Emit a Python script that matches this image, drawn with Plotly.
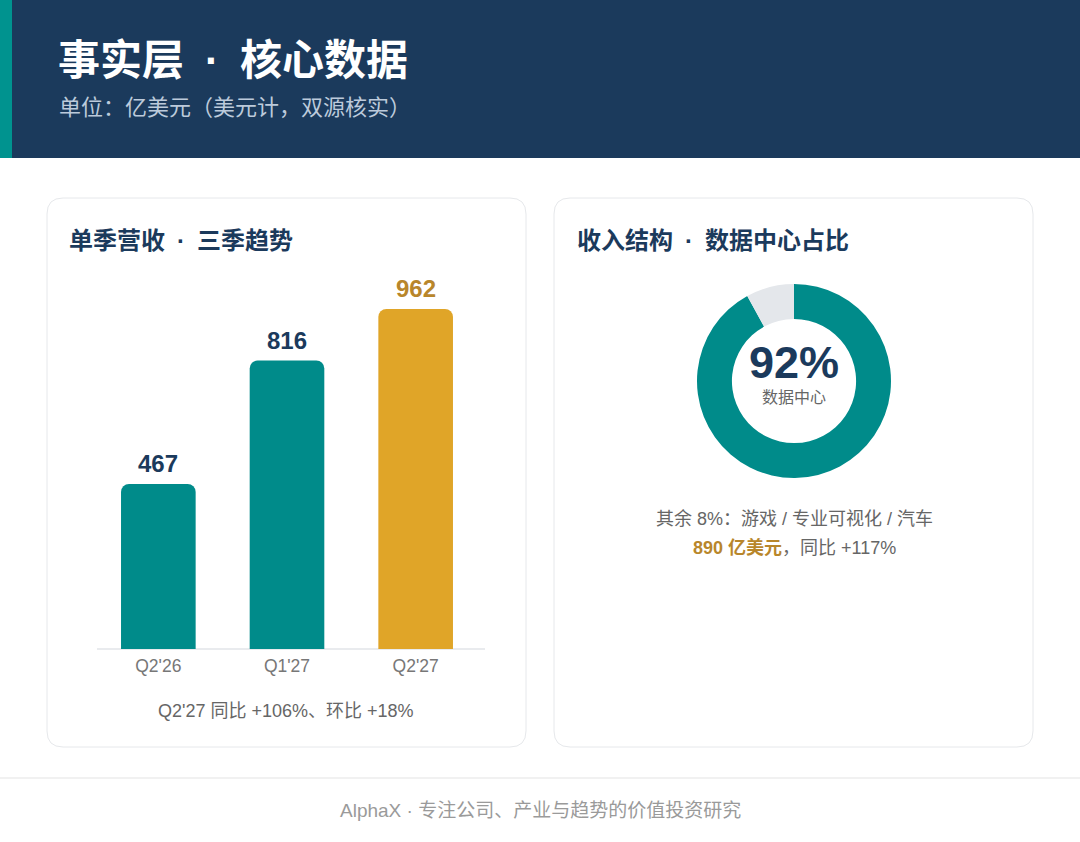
import plotly.graph_objects as go

# == Data ==
quarters = ["Q2'26", "Q1'27", "Q2'27"]
revenue = [467, 816, 962]

mix_labels = ["数据中心", "其余"]
mix_share = [92, 8]

SEP = "\u2002·\u2002"  # wide spacing around the middle dot, as in the reference
title = f"事实层{SEP}核心数据"
subtitle = "单位：亿美元（美元计，双源核实）"
left_title = f"单季营收{SEP}三季趋势"
right_title = f"收入结构{SEP}数据中心占比"
left_note = "Q2'27 同比 +106%、环比 +18%"
center_big = "92%"
center_small = "数据中心"
rest_note = "其余 8%：游戏 / 专业可视化 / 汽车"
dc_value = "890 亿美元"
dc_growth = "，同比 +117%"
footer = "AlphaX · 专注公司、产业与趋势的价值投资研究"

# == Style ==
W, H = 1080, 842
FONT = "Liberation Sans, Noto Sans CJK SC, sans-serif"
NAVY = "#1b3a5c"
TEAL = "#008b8a"
GOLD = "#e0a528"
GOLD_TEXT = "#b8862b"
GREY_RING = "#e4e7eb"
bar_colors = [TEAL, TEAL, GOLD]
label_colors = [NAVY, NAVY, GOLD_TEXT]


def X(v):
    return v / W


def Y(v):
    return 1 - v / H


def rounded_rect(x0, y0, x1, y1, r):
    # pixel coords (y down) -> svg path in paper coords
    return (
        f"M {X(x0 + r)},{Y(y0)} L {X(x1 - r)},{Y(y0)} "
        f"Q {X(x1)},{Y(y0)} {X(x1)},{Y(y0 + r)} L {X(x1)},{Y(y1 - r)} "
        f"Q {X(x1)},{Y(y1)} {X(x1 - r)},{Y(y1)} L {X(x0 + r)},{Y(y1)} "
        f"Q {X(x0)},{Y(y1)} {X(x0)},{Y(y1 - r)} L {X(x0)},{Y(y0 + r)} "
        f"Q {X(x0)},{Y(y0)} {X(x0 + r)},{Y(y0)} Z"
    )


fig = go.Figure()

fig.add_trace(
    go.Bar(
        x=quarters,
        y=revenue,
        marker=dict(color=bar_colors, cornerradius=8, line=dict(width=0)),
        width=0.58,
        hoverinfo="skip",
        showlegend=False,
    )
)

fig.add_trace(
    go.Pie(
        labels=mix_labels,
        values=mix_share,
        hole=0.64,
        sort=False,
        direction="clockwise",
        rotation=0,
        marker=dict(colors=[TEAL, GREY_RING], line=dict(width=0)),
        textinfo="none",
        hoverinfo="skip",
        showlegend=False,
        domain=dict(x=[X(697), X(891)], y=[Y(478), Y(284)]),
    )
)

shapes = [
    # header band + accent strip
    dict(type="rect", xref="paper", yref="paper", x0=0, x1=1, y0=Y(158), y1=1,
         fillcolor=NAVY, line=dict(width=0), layer="below"),
    dict(type="rect", xref="paper", yref="paper", x0=0, x1=X(12), y0=Y(158), y1=1,
         fillcolor="#00938f", line=dict(width=0), layer="below"),
    # cards
    dict(type="path", xref="paper", yref="paper", path=rounded_rect(47, 198, 526, 747, 16),
         fillcolor="white", line=dict(color="#e6e8eb", width=1), layer="below"),
    dict(type="path", xref="paper", yref="paper", path=rounded_rect(554, 198, 1033, 747, 16),
         fillcolor="white", line=dict(color="#e6e8eb", width=1), layer="below"),
    # bar baseline
    dict(type="line", xref="paper", yref="paper", x0=X(97), x1=X(485), y0=Y(649), y1=Y(649),
         line=dict(color="#e2e5e9", width=1.5), layer="below"),
    # footer separator
    dict(type="line", xref="paper", yref="paper", x0=0, x1=1, y0=Y(778), y1=Y(778),
         line=dict(color="#ececec", width=1.5), layer="below"),
]


def text(x, y, s, size, color, anchor="left", bold=False):
    return dict(
        xref="paper", yref="paper", x=X(x), y=Y(y), text=s, showarrow=False,
        xanchor=anchor, yanchor="middle",
        font=dict(family=FONT, size=size, color=color, weight="bold" if bold else "normal"),
    )


annotations = [
    text(56, 60, title, 42, "white", bold=True),
    text(57, 108, subtitle, 22, "#bccadb"),
    text(67, 240, left_title, 24, NAVY, bold=True),
    text(575, 240, right_title, 24, NAVY, bold=True),
    text(286, 711, left_note, 18, "#666666", anchor="center"),
    text(794, 362, center_big, 45, NAVY, anchor="center", bold=True),
    text(794, 397, center_small, 16, "#666666", anchor="center"),
    text(794, 519, rest_note, 18, "#666666", anchor="center"),
    text(794, 547, f"<b><span style='color:{GOLD_TEXT}'>{dc_value}</span></b>{dc_growth}",
         18, "#666666", anchor="center"),
    text(540, 810, footer, 19, "#9a9a9a", anchor="center"),
]

# value labels above bars
for q, v, c in zip(quarters, revenue, label_colors):
    annotations.append(
        dict(xref="x", yref="y", x=q, y=v, text=str(v), showarrow=False,
             yanchor="bottom", yshift=5,
             font=dict(family=FONT, size=24, color=c, weight="bold"))
    )

fig.update_layout(
    width=W,
    height=H,
    margin=dict(l=0, r=0, t=0, b=0),
    paper_bgcolor="white",
    plot_bgcolor="rgba(0,0,0,0)",
    font=dict(family=FONT),
    shapes=shapes,
    annotations=annotations,
    xaxis=dict(
        domain=[X(94), X(480)],
        type="category",
        showgrid=False,
        zeroline=False,
        showline=False,
        ticks="",
        ticklabelstandoff=4,
        tickfont=dict(family=FONT, size=17.5, color="#777777"),
        fixedrange=True,
    ),
    yaxis=dict(
        domain=[Y(649), Y(270)],
        range=[0, 1072],
        visible=False,
        fixedrange=True,
    ),
)

# the page body has a default 8px margin; drop it so the figure fills the window
fig.write_html(
    "out.html",
    config={"displayModeBar": False},
    post_script="document.body.style.margin='0';document.body.style.overflow='hidden';",
)
